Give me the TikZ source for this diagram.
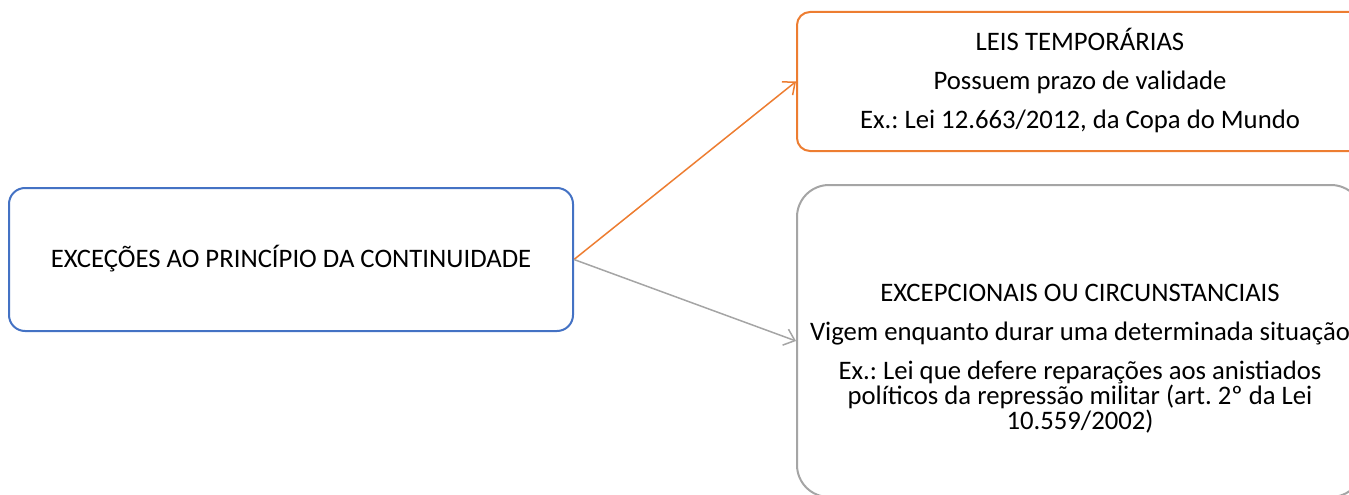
\documentclass[tikz,border=0pt]{standalone}
\usepackage{fontspec}
\setmainfont{Carlito}
\usetikzlibrary{arrows.meta}
\definecolor{cblue}{HTML}{4472C4}
\definecolor{corange}{HTML}{ED7D31}
\definecolor{cgray}{HTML}{A5A5A5}
\tikzset{
  box/.style={draw, line width=2pt, fill=white, inner sep=0pt},
  txt/.style={align=center, inner sep=0pt, font=\fontsize{26.7}{23.5}\selectfont\frenchspacing, text=black},
  arr/.style={line width=1.5pt, -{Straight Barb[length=10pt,width=17pt,line width=1.5pt]}}
}
\begin{document}
\begin{tikzpicture}[x=1pt,y=-1pt]
\useasboundingbox (0,0) rectangle (1349,495);
\clip (0,0) rectangle (1349,495);
\node[box, draw=cblue, rounded corners=16pt, minimum width=564pt, minimum height=143pt] (root) at (291,259.5) {};
\node[txt] (roottxt) at (291,258.5) {EXCEÇÕES AO PRINCÍPIO DA CONTINUIDADE};
\node[box, draw=corange, rounded corners=13pt, minimum width=566pt, minimum height=139pt] (temp) at (1080,81.5) {};
\node[txt] (temptxt) at (1080,81) {LEIS TEMPORÁRIAS\\[15.5pt]Possuem prazo de validade\\[15.5pt]Ex.: Lei 12.663/2012, da Copa do Mundo};
\node[box, draw=cgray, rounded corners=32pt, minimum width=566pt, minimum height=312pt] (exc) at (1080,341) {};
\node[txt] (exctxt) at (1080,358.5) {EXCEPCIONAIS OU CIRCUNSTANCIAIS\\[15.5pt]Vigem enquanto durar uma determinada situação\\[15.5pt]Ex.: Lei que defere reparações aos anistiados\\políticos da repressão militar (art. 2º da Lei\\10.559/2002)};
\draw[arr, corange] (root.east) -- (temp.west);
\draw[arr, cgray] (root.east) -- (exc.west);
\end{tikzpicture}
\end{document}
